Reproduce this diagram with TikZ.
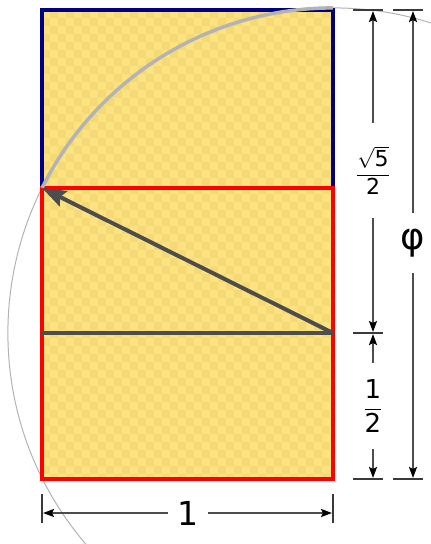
\documentclass[tikz,border=0pt]{standalone}
\usepackage{fontspec}
\setmainfont{DejaVu Sans}
\usetikzlibrary{arrows.meta}
\definecolor{navyc}{HTML}{000080}
\definecolor{redc}{HTML}{FF0000}
\definecolor{ylight}{HTML}{FDE37F}
\definecolor{ydark}{HTML}{F5D977}
\definecolor{darkg}{HTML}{4D4D4D}
\definecolor{tickg}{HTML}{3A3A3A}
\definecolor{arcg}{HTML}{B3B3B3}
\tikzset{
  boxline/.style={line width=3.5pt},
  mainline/.style={darkg, line width=4pt},
  dimline/.style={darkg, line width=2pt, shorten >=1pt,
    -{Stealth[length=11pt,width=8pt,inset=2pt,color=black]}},
  tickline/.style={tickg, line width=2pt},
  lab/.style={inner sep=0pt, text=black},
}
\begin{document}
\begin{tikzpicture}[x=1pt,y=1pt]
\useasboundingbox (0,0) rectangle (431,-544);
% coordinates
\coordinate (TL) at (42,-10);
\coordinate (BR) at (333,-479);
\coordinate (ML) at (42,-188);
\coordinate (MR) at (333,-188);
\coordinate (HL) at (42,-333);
\coordinate (HR) at (333,-333);
% checkerboard fill
\begin{scope}
\clip (TL) rectangle (BR);
\fill[ylight] (TL) rectangle (BR);
\foreach \i in {0,...,36} {
  \foreach \j in {0,...,58} {
    \pgfmathtruncatemacro\k{mod(\i+\j,2)}
    \ifnum\k=1
      \fill[ydark] ({42+8*\i},{-10-8*\j}) rectangle ++(8,-8);
    \fi
  }
}
\end{scope}
% thin circle
\begin{scope}
\clip (0,0) rectangle (431,-544);
\draw[arcg, line width=1pt] (HR) circle[radius=325.1pt];
\end{scope}
% rectangles
\draw[boxline, navyc] (TL) rectangle (MR);
\draw[boxline, redc] (ML) rectangle (BR);
% thick arc
\draw[arcg, line width=3.5pt] (333,-7.9) arc[start angle=90, end angle=153.5, radius=325.1pt];
% half line and diagonal arrow
\draw[mainline] (HL) -- (HR);
\draw[mainline, -{Stealth[length=24pt,width=17pt,inset=4pt]}] (HR) -- (ML);
% dimension coordinates
\coordinate (a1) at (373,-10);
\coordinate (a2) at (373,-333);
\coordinate (a3) at (373,-479);
\coordinate (p1) at (413,-10);
\coordinate (p2) at (413,-479);
\coordinate (b1) at (42,-513);
\coordinate (b2) at (333,-513);
% ticks
\draw[tickline] (353,-10) -- (383,-10);
\draw[tickline] (353,-333) -- (383,-333);
\draw[tickline] (353,-479) -- (383,-479);
\draw[tickline] (393,-10) -- (423,-10);
\draw[tickline] (393,-479) -- (423,-479);
\draw[tickline] (42,-494) -- (42,-523);
\draw[tickline] (333,-494) -- (333,-523);
% labels
\node[lab, minimum height=95pt] (s5) at (373,-170.5)
  {\fontsize{22}{26}\selectfont$\displaystyle\frac{\sqrt{\mbox{5}}}{\mbox{2}}$};
\node[lab, minimum height=86pt] (hf) at (373,-406)
  {\fontsize{26}{30}\selectfont$\displaystyle\frac{\mbox{1}}{\mbox{2}}$};
\node[lab, minimum height=60pt] (ph) at (413,-243)
  {\fontsize{37}{42}\selectfont φ};
\node[lab, minimum width=40pt] (one) at (188,-513)
  {\fontsize{33}{38}\selectfont 1};
% dimension lines
\draw[dimline] (s5.north) -- (a1);
\draw[dimline] (s5.south) -- (a2);
\draw[dimline] (hf.north) -- (a2);
\draw[dimline] (hf.south) -- (a3);
\draw[dimline] (ph.north) -- (p1);
\draw[dimline] (ph.south) -- (p2);
\draw[dimline] (one.west) -- (b1);
\draw[dimline] (one.east) -- (b2);
\end{tikzpicture}
\end{document}
